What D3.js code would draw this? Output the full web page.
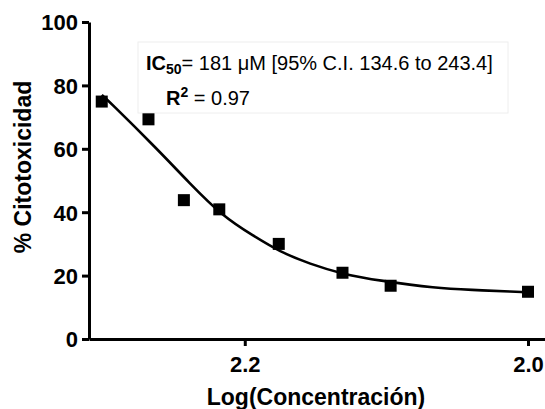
<!DOCTYPE html>
<html>
<head>
<meta charset="utf-8">
<script src="https://cdn.jsdelivr.net/npm/d3@7"></script>
<style>
  html, body { margin: 0; padding: 0; background: #fff; }
  svg { display: block; }
  text { font-family: "Liberation Sans", Arial, sans-serif; fill: #000; }
</style>
</head>
<body>
<svg id="chart" width="545" height="409"></svg>
<script>
// ---- data ----
const logConc = [2.301, 2.268, 2.243, 2.218, 2.176, 2.131, 2.097, 2.000];
const citotox = [74.9, 69.3, 43.8, 40.9, 30.0, 20.9, 16.8, 14.9];
// fitted curve
const fitX = [2.301, 2.2968, 2.2624, 2.2389, 2.2153, 2.1941, 2.1753, 2.1541, 2.1305, 2.1046, 2.0645, 2.0410, 2.0080, 2.004];
const fitY = [77.0, 75.4, 60.2, 49.1, 38.6, 32.6, 27.5, 23.7, 20.4, 18.4, 16.0, 15.5, 14.9, 14.8];
const xTicks = [2.2, 2.0];
const yTicks = [0, 20, 40, 60, 80, 100];
const xTitle = "Log(Concentración)";
const yTitle = "% Citotoxicidad";

const svg = d3.select("#chart");
const x = d3.scaleLinear().domain([2.31, 1.988]).range([89, 545]);
const y = d3.scaleLinear().domain([0, 100]).range([339, 22]);

// annotation box
svg.append("rect").attr("x", 138).attr("y", 42).attr("width", 370).attr("height", 71)
  .attr("fill", "#fff").attr("stroke", "#eeeeee").attr("stroke-width", 1);

const t1 = svg.append("text").attr("x", 146).attr("y", 70).attr("font-size", 20);
t1.append("tspan").attr("font-weight", "bold").text("IC");
t1.append("tspan").attr("font-weight", "bold").attr("font-size", 14).attr("dy", 4).text("50");
t1.append("tspan").attr("dy", -4).text("= 181 \u03bcM [95% C.I. 134.6 to 243.4]");

const t2 = svg.append("text").attr("x", 166).attr("y", 105).attr("font-size", 20);
t2.append("tspan").attr("font-weight", "bold").text("R");
t2.append("tspan").attr("font-weight", "bold").attr("font-size", 14).attr("dy", -8).text("2");
t2.append("tspan").attr("dy", 8).text(" = 0.97");

// axes
const yAxis = d3.axisLeft(y).tickValues(yTicks).tickSize(7).tickPadding(4).tickSizeOuter(0);
const gy = svg.append("g").attr("transform", "translate(89,0)").call(yAxis);
const xAxis = d3.axisBottom(x).tickValues(xTicks).tickFormat(d3.format(".1f")).tickSize(7).tickPadding(10).tickSizeOuter(0);
const gx = svg.append("g").attr("transform", "translate(0,339)").call(xAxis);

[gx, gy].forEach(g => {
  g.select(".domain").attr("stroke", "#000").attr("stroke-width", 3);
  g.selectAll(".tick line").attr("stroke", "#000").attr("stroke-width", 3);
  g.selectAll(".tick text").attr("font-size", 22).attr("font-weight", "bold")
    .attr("font-family", "'Liberation Sans', Arial, sans-serif").attr("fill", "#000");
});
gy.selectAll(".tick text").attr("dy", "0.36em");

// titles
svg.append("text").attr("x", 316).attr("y", 405).attr("text-anchor", "middle")
  .attr("font-size", 23).attr("font-weight", "bold").text(xTitle);
svg.append("text").attr("transform", "translate(31,167) rotate(-90)").attr("text-anchor", "middle")
  .attr("font-size", 23).attr("font-weight", "bold").text(yTitle);

// fitted curve
const fit = fitX.map((v, i) => [v, fitY[i]]);
svg.append("path").datum(fit)
  .attr("fill", "none").attr("stroke", "#000").attr("stroke-width", 2.6)
  .attr("d", d3.line().x(d => x(d[0])).y(d => y(d[1])).curve(d3.curveBasis));

// points
const pts = logConc.map((v, i) => [v, citotox[i]]);
const s = 12;
svg.append("g").selectAll("rect").data(pts).join("rect")
  .attr("x", d => x(d[0]) - s / 2).attr("y", d => y(d[1]) - s / 2)
  .attr("width", s).attr("height", s).attr("fill", "#000");
</script>
</body>
</html>
